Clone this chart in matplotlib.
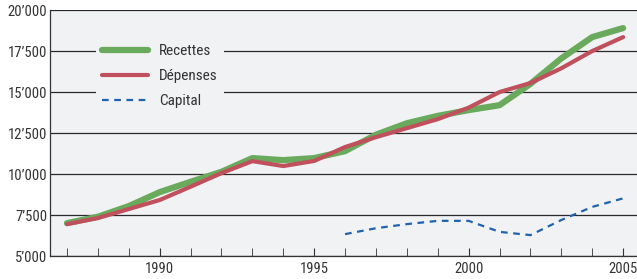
import matplotlib.pyplot as plt
from matplotlib.ticker import FuncFormatter

years = list(range(1987, 2006))
recettes = [7010, 7400, 8050, 8900, 9530, 10140, 10975, 10850, 10975, 11400,
            12400, 13100, 13550, 13900, 14200, 15500, 17050, 18350, 18900]
depenses = [6950, 7320, 7870, 8420, 9230, 10060, 10790, 10490, 10800, 11650,
            12250, 12800, 13350, 14050, 15000, 15550, 16450, 17500, 18350]
capital_years = list(range(1996, 2006))
capital = [6340, 6700, 6950, 7150, 7150, 6480, 6280, 7200, 8000, 8520]

y_ticks = [5000, 7500, 10000, 12500, 15000, 17500, 20000]
x_ticks = [1990, 1995, 2000, 2005]

plt.rcParams['font.family'] = ['Roboto Condensed', 'Archivo Narrow',
                               'Asap Condensed', 'DejaVu Sans']

fig = plt.figure(figsize=(6.37, 2.79), dpi=100)
ax = fig.add_axes([0.0785, 0.082, 0.9215, 0.882])
ax.set_facecolor('#f1f2f4')

ax.plot(years, recettes, color='#6aaa5c', lw=4.5, label='Recettes',
        solid_capstyle='round', solid_joinstyle='round', zorder=3)
ax.plot(years, depenses, color='#c0505c', lw=3, label='Dépenses',
        solid_capstyle='round', solid_joinstyle='round', zorder=4)
ax.plot(capital_years, capital, color='#1f62ad', lw=1.6, ls=(0, (3, 2.5)),
        label='Capital', zorder=4)

ax.set_xlim(1986.45, 2005.45)
ax.set_ylim(5000, 20000)
ax.set_yticks(y_ticks)
ax.yaxis.set_major_formatter(FuncFormatter(
    lambda v, p: f"{int(v):,}".replace(',', '\u2019')))
ax.set_xticks(x_ticks)
ax.set_xticks(years, minor=True)
ax.tick_params(axis='x', which='both', direction='in', length=6,
               color='#333333', labelsize=10.5, labelcolor='#333333', pad=4)
ax.tick_params(axis='y', length=0, labelsize=10.5, labelcolor='#333333', pad=2)
ax.grid(axis='y', color='#2a2a2a', lw=0.9, zorder=1)

for s in ['top', 'right']:
    ax.spines[s].set_visible(False)
for s in ['left', 'bottom']:
    ax.spines[s].set_color('#333333')
    ax.spines[s].set_linewidth(0.9)

leg = ax.legend(loc='upper left', bbox_to_anchor=(0.066, 0.917),
                frameon=True, facecolor='#f1f2f4', edgecolor='none',
                framealpha=1, fontsize=11, handlelength=3.0,
                handletextpad=0.7, labelspacing=0.72, borderpad=0.4,
                fancybox=False)
leg.set_zorder(5)
for t in leg.get_texts():
    t.set_color('#333333')

fig.savefig('out.png', dpi=100)
